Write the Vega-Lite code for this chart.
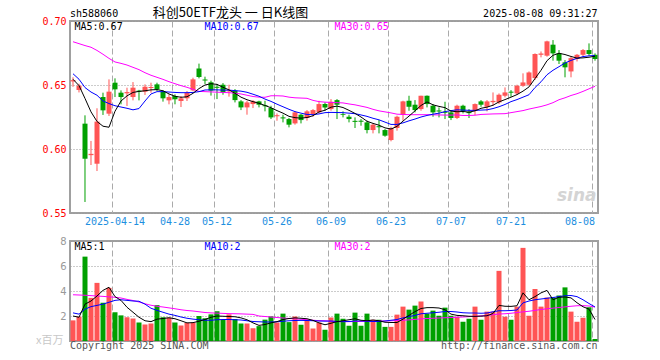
{
  "$schema": "https://vega.github.io/schema/vega-lite/v6.json",
  "autosize": {"type": "pad"},
  "padding": {"left": 35, "top": 5, "right": 0, "bottom": 0},
  "background": "#ffffff",
  "bounds": "flush",
  "spacing": 28,
  "datasets": {
    "k": [
      {"d":"2025-04-02","o":0.6528,"h":0.6560,"l":0.6486,"c":0.6538,"v":1.65,"m5":0.6545,"m10":0.6588,"m30":0.6838,"vm5":2.0,"vm10":2.25,"vm30":3.70},
      {"d":"2025-04-03","o":0.6461,"h":0.6510,"l":0.6442,"c":0.6495,"v":1.95,"m5":0.6495,"m10":0.6545,"m30":0.6823,"vm5":1.9,"vm10":2.15,"vm30":3.68},
      {"d":"2025-04-07","o":0.6198,"h":0.6263,"l":0.5586,"c":0.5924,"v":6.75,"m5":0.6395,"m10":0.6480,"m30":0.6808,"vm5":2.95,"vm10":2.55,"vm30":3.66},
      {"d":"2025-04-08","o":0.5952,"h":0.6063,"l":0.5875,"c":0.5962,"v":3.45,"m5":0.6290,"m10":0.6445,"m30":0.6795,"vm5":3.2,"vm10":2.75,"vm30":3.63},
      {"d":"2025-04-09","o":0.5885,"h":0.6318,"l":0.5828,"c":0.6214,"v":4.65,"m5":0.6215,"m10":0.6420,"m30":0.6770,"vm5":3.6,"vm10":2.85,"vm30":3.60},
      {"d":"2025-04-10","o":0.6406,"h":0.6440,"l":0.6266,"c":0.6302,"v":3.06,"m5":0.6178,"m10":0.6375,"m30":0.6740,"vm5":4.05,"vm10":2.95,"vm30":3.57},
      {"d":"2025-04-11","o":0.6276,"h":0.6544,"l":0.6258,"c":0.6448,"v":4.25,"m5":0.6170,"m10":0.6355,"m30":0.6708,"vm5":4.3,"vm10":3.1,"vm30":3.53},
      {"d":"2025-04-14","o":0.6518,"h":0.6552,"l":0.6406,"c":0.6466,"v":2.3,"m5":0.6295,"m10":0.6338,"m30":0.6680,"vm5":3.55,"vm10":3.25,"vm30":3.50},
      {"d":"2025-04-15","o":0.6440,"h":0.6458,"l":0.6349,"c":0.6406,"v":2.05,"m5":0.6375,"m10":0.6328,"m30":0.6669,"vm5":3.25,"vm10":3.3,"vm30":3.44},
      {"d":"2025-04-16","o":0.6435,"h":0.6479,"l":0.6336,"c":0.6445,"v":1.9,"m5":0.6415,"m10":0.6318,"m30":0.6656,"vm5":2.7,"vm10":3.25,"vm30":3.33},
      {"d":"2025-04-17","o":0.6406,"h":0.6523,"l":0.6380,"c":0.6479,"v":1.8,"m5":0.6442,"m10":0.6306,"m30":0.6638,"vm5":2.3,"vm10":3.2,"vm30":3.24},
      {"d":"2025-04-18","o":0.6456,"h":0.6462,"l":0.6380,"c":0.6448,"v":1.48,"m5":0.6450,"m10":0.6316,"m30":0.6620,"vm5":1.9,"vm10":3.18,"vm30":3.12},
      {"d":"2025-04-21","o":0.6448,"h":0.6505,"l":0.6422,"c":0.6487,"v":1.32,"m5":0.6455,"m10":0.6375,"m30":0.6596,"vm5":1.62,"vm10":2.95,"vm30":2.98},
      {"d":"2025-04-22","o":0.6477,"h":0.6518,"l":0.6440,"c":0.6485,"v":1.4,"m5":0.6462,"m10":0.6430,"m30":0.6576,"vm5":1.55,"vm10":2.62,"vm30":2.86},
      {"d":"2025-04-23","o":0.6505,"h":0.6518,"l":0.6453,"c":0.6466,"v":2.87,"m5":0.6464,"m10":0.6448,"m30":0.6560,"vm5":1.75,"vm10":2.45,"vm30":2.78},
      {"d":"2025-04-24","o":0.6448,"h":0.6458,"l":0.6370,"c":0.6396,"v":1.9,"m5":0.6455,"m10":0.6448,"m30":0.6544,"vm5":1.8,"vm10":2.3,"vm30":2.72},
      {"d":"2025-04-25","o":0.6380,"h":0.6427,"l":0.6349,"c":0.6406,"v":1.87,"m5":0.6430,"m10":0.6445,"m30":0.6526,"vm5":1.86,"vm10":2.15,"vm30":2.65},
      {"d":"2025-04-28","o":0.6414,"h":0.6427,"l":0.6349,"c":0.6388,"v":1.48,"m5":0.6412,"m10":0.6442,"m30":0.6510,"vm5":1.78,"vm10":2.05,"vm30":2.58},
      {"d":"2025-04-29","o":0.6375,"h":0.6414,"l":0.6328,"c":0.6396,"v":1.24,"m5":0.6404,"m10":0.6440,"m30":0.6495,"vm5":1.62,"vm10":1.92,"vm30":2.50},
      {"d":"2025-04-30","o":0.6396,"h":0.6453,"l":0.6375,"c":0.6440,"v":1.46,"m5":0.6408,"m10":0.6440,"m30":0.6482,"vm5":1.45,"vm10":1.82,"vm30":2.44},
      {"d":"2025-05-06","o":0.6458,"h":0.6557,"l":0.6453,"c":0.6544,"v":1.48,"m5":0.6435,"m10":0.6442,"m30":0.6466,"vm5":1.47,"vm10":1.75,"vm30":2.40},
      {"d":"2025-05-07","o":0.6628,"h":0.6667,"l":0.6552,"c":0.6563,"v":2.0,"m5":0.6472,"m10":0.6448,"m30":0.6450,"vm5":1.58,"vm10":1.70,"vm30":2.34},
      {"d":"2025-05-08","o":0.6543,"h":0.6565,"l":0.6508,"c":0.6535,"v":1.82,"m5":0.6500,"m10":0.6461,"m30":0.6448,"vm5":1.72,"vm10":1.66,"vm30":2.28},
      {"d":"2025-05-09","o":0.6521,"h":0.6534,"l":0.6417,"c":0.6456,"v":2.13,"m5":0.6510,"m10":0.6462,"m30":0.6446,"vm5":1.9,"vm10":1.66,"vm30":2.25},
      {"d":"2025-05-12","o":0.6486,"h":0.6508,"l":0.6390,"c":0.6478,"v":2.38,"m5":0.6505,"m10":0.6462,"m30":0.6444,"vm5":2.0,"vm10":1.7,"vm30":2.23},
      {"d":"2025-05-13","o":0.6502,"h":0.6515,"l":0.6424,"c":0.6442,"v":1.69,"m5":0.6482,"m10":0.6460,"m30":0.6442,"vm5":1.98,"vm10":1.72,"vm30":2.21},
      {"d":"2025-05-14","o":0.6450,"h":0.6502,"l":0.6409,"c":0.6458,"v":2.13,"m5":0.6462,"m10":0.6460,"m30":0.6440,"vm5":1.96,"vm10":1.72,"vm30":2.19},
      {"d":"2025-05-15","o":0.6456,"h":0.6468,"l":0.6364,"c":0.6382,"v":1.76,"m5":0.6435,"m10":0.6456,"m30":0.6436,"vm5":1.94,"vm10":1.70,"vm30":2.18},
      {"d":"2025-05-16","o":0.6372,"h":0.6382,"l":0.6304,"c":0.6325,"v":1.4,"m5":0.6405,"m10":0.6452,"m30":0.6430,"vm5":1.85,"vm10":1.68,"vm30":2.17},
      {"d":"2025-05-19","o":0.6325,"h":0.6377,"l":0.6268,"c":0.6364,"v":1.4,"m5":0.6385,"m10":0.6443,"m30":0.6420,"vm5":1.7,"vm10":1.62,"vm30":2.15},
      {"d":"2025-05-20","o":0.6351,"h":0.6382,"l":0.6320,"c":0.6372,"v":1.02,"m5":0.6370,"m10":0.6428,"m30":0.6410,"vm5":1.45,"vm10":1.56,"vm30":2.13},
      {"d":"2025-05-21","o":0.6372,"h":0.6377,"l":0.6325,"c":0.6346,"v":1.19,"m5":0.6357,"m10":0.6412,"m30":0.6405,"vm5":1.25,"vm10":1.54,"vm30":2.0},
      {"d":"2025-05-22","o":0.6342,"h":0.6377,"l":0.6294,"c":0.6334,"v":1.71,"m5":0.6340,"m10":0.6390,"m30":0.6404,"vm5":1.32,"vm10":1.52,"vm30":1.96},
      {"d":"2025-05-23","o":0.6320,"h":0.6338,"l":0.6234,"c":0.6247,"v":1.97,"m5":0.6322,"m10":0.6372,"m30":0.6416,"vm5":1.45,"vm10":1.52,"vm30":1.92},
      {"d":"2025-05-26","o":0.6256,"h":0.6278,"l":0.6221,"c":0.6264,"v":1.48,"m5":0.6300,"m10":0.6350,"m30":0.6416,"vm5":1.55,"vm10":1.54,"vm30":1.88},
      {"d":"2025-05-27","o":0.6247,"h":0.6268,"l":0.6208,"c":0.6239,"v":2.19,"m5":0.6280,"m10":0.6330,"m30":0.6414,"vm5":1.72,"vm10":1.58,"vm30":1.84},
      {"d":"2025-05-28","o":0.6234,"h":0.6242,"l":0.6169,"c":0.6190,"v":1.51,"m5":0.6255,"m10":0.6310,"m30":0.6405,"vm5":1.8,"vm10":1.62,"vm30":1.80},
      {"d":"2025-05-29","o":0.6200,"h":0.6294,"l":0.6190,"c":0.6286,"v":1.96,"m5":0.6245,"m10":0.6292,"m30":0.6400,"vm5":1.85,"vm10":1.64,"vm30":1.77},
      {"d":"2025-05-30","o":0.6268,"h":0.6273,"l":0.6200,"c":0.6226,"v":1.3,"m5":0.6241,"m10":0.6280,"m30":0.6398,"vm5":1.82,"vm10":1.65,"vm30":1.74},
      {"d":"2025-06-03","o":0.6242,"h":0.6304,"l":0.6221,"c":0.6294,"v":1.7,"m5":0.6246,"m10":0.6270,"m30":0.6396,"vm5":1.78,"vm10":1.64,"vm30":1.70},
      {"d":"2025-06-04","o":0.6273,"h":0.6312,"l":0.6252,"c":0.6304,"v":1.0,"m5":0.6260,"m10":0.6268,"m30":0.6380,"vm5":1.65,"vm10":1.62,"vm30":1.66},
      {"d":"2025-06-05","o":0.6286,"h":0.6377,"l":0.6278,"c":0.6351,"v":1.48,"m5":0.6290,"m10":0.6274,"m30":0.6370,"vm5":1.45,"vm10":1.60,"vm30":1.63},
      {"d":"2025-06-06","o":0.6351,"h":0.6364,"l":0.6299,"c":0.6325,"v":0.9,"m5":0.6303,"m10":0.6284,"m30":0.6366,"vm5":1.3,"vm10":1.59,"vm30":1.62},
      {"d":"2025-06-09","o":0.6312,"h":0.6390,"l":0.6299,"c":0.6369,"v":1.88,"m5":0.6327,"m10":0.6286,"m30":0.6364,"vm5":1.42,"vm10":1.60,"vm30":1.58},
      {"d":"2025-06-10","o":0.6382,"h":0.6390,"l":0.6234,"c":0.6346,"v":2.19,"m5":0.6335,"m10":0.6285,"m30":0.6362,"vm5":1.55,"vm10":1.56,"vm30":1.56},
      {"d":"2025-06-11","o":0.6272,"h":0.6294,"l":0.6247,"c":0.6266,"v":1.78,"m5":0.6324,"m10":0.6284,"m30":0.6360,"vm5":1.62,"vm10":1.55,"vm30":1.55},
      {"d":"2025-06-12","o":0.6252,"h":0.6268,"l":0.6208,"c":0.6234,"v":1.22,"m5":0.6302,"m10":0.6280,"m30":0.6352,"vm5":1.70,"vm10":1.56,"vm30":1.55},
      {"d":"2025-06-13","o":0.6220,"h":0.6247,"l":0.6164,"c":0.6212,"v":2.27,"m5":0.6278,"m10":0.6276,"m30":0.6345,"vm5":1.78,"vm10":1.60,"vm30":1.56},
      {"d":"2025-06-16","o":0.6221,"h":0.6234,"l":0.6182,"c":0.6213,"v":1.22,"m5":0.6250,"m10":0.6266,"m30":0.6335,"vm5":1.66,"vm10":1.60,"vm30":1.57},
      {"d":"2025-06-17","o":0.6208,"h":0.6221,"l":0.6122,"c":0.6148,"v":2.19,"m5":0.6217,"m10":0.6255,"m30":0.6325,"vm5":1.62,"vm10":1.58,"vm30":1.58},
      {"d":"2025-06-18","o":0.6148,"h":0.6200,"l":0.6122,"c":0.6190,"v":1.70,"m5":0.6200,"m10":0.6240,"m30":0.6310,"vm5":1.68,"vm10":1.56,"vm30":1.59},
      {"d":"2025-06-19","o":0.6178,"h":0.6226,"l":0.6122,"c":0.6170,"v":1.70,"m5":0.6186,"m10":0.6228,"m30":0.6298,"vm5":1.62,"vm10":1.56,"vm30":1.60},
      {"d":"2025-06-20","o":0.6148,"h":0.6156,"l":0.6096,"c":0.6104,"v":1.13,"m5":0.6165,"m10":0.6210,"m30":0.6290,"vm5":1.50,"vm10":1.60,"vm30":1.60},
      {"d":"2025-06-23","o":0.6070,"h":0.6174,"l":0.6060,"c":0.6164,"v":1.13,"m5":0.6156,"m10":0.6192,"m30":0.6282,"vm5":1.48,"vm10":1.66,"vm30":1.62},
      {"d":"2025-06-24","o":0.6164,"h":0.6260,"l":0.6143,"c":0.6252,"v":2.11,"m5":0.6177,"m10":0.6192,"m30":0.6272,"vm5":1.48,"vm10":1.72,"vm30":1.64},
      {"d":"2025-06-25","o":0.6268,"h":0.6377,"l":0.6221,"c":0.6372,"v":2.75,"m5":0.6218,"m10":0.6204,"m30":0.6270,"vm5":1.75,"vm10":1.85,"vm30":1.66},
      {"d":"2025-06-26","o":0.6377,"h":0.6416,"l":0.6299,"c":0.6330,"v":2.51,"m5":0.6257,"m10":0.6220,"m30":0.6268,"vm5":2.05,"vm10":1.95,"vm30":1.69},
      {"d":"2025-06-27","o":0.6346,"h":0.6382,"l":0.6286,"c":0.6304,"v":2.83,"m5":0.6298,"m10":0.6234,"m30":0.6268,"vm5":2.35,"vm10":2.05,"vm30":1.73},
      {"d":"2025-06-30","o":0.6312,"h":0.6416,"l":0.6299,"c":0.6416,"v":3.16,"m5":0.6340,"m10":0.6250,"m30":0.6268,"vm5":2.6,"vm10":2.18,"vm30":1.77},
      {"d":"2025-07-01","o":0.6416,"h":0.6418,"l":0.6325,"c":0.6351,"v":2.19,"m5":0.6368,"m10":0.6262,"m30":0.6268,"vm5":2.67,"vm10":2.22,"vm30":1.80},
      {"d":"2025-07-02","o":0.6338,"h":0.6351,"l":0.6252,"c":0.6286,"v":2.43,"m5":0.6345,"m10":0.6272,"m30":0.6267,"vm5":2.67,"vm10":2.26,"vm30":1.82},
      {"d":"2025-07-03","o":0.6301,"h":0.6325,"l":0.6247,"c":0.6293,"v":2.02,"m5":0.6333,"m10":0.6280,"m30":0.6266,"vm5":2.64,"vm10":2.30,"vm30":1.84},
      {"d":"2025-07-04","o":0.6291,"h":0.6369,"l":0.6234,"c":0.6283,"v":2.67,"m5":0.6323,"m10":0.6292,"m30":0.6265,"vm5":2.5,"vm10":2.36,"vm30":1.86},
      {"d":"2025-07-07","o":0.6286,"h":0.6299,"l":0.6226,"c":0.6242,"v":2.02,"m5":0.6296,"m10":0.6300,"m30":0.6265,"vm5":2.15,"vm10":2.36,"vm30":1.88},
      {"d":"2025-07-08","o":0.6242,"h":0.6346,"l":0.6234,"c":0.6338,"v":1.94,"m5":0.6291,"m10":0.6306,"m30":0.6266,"vm5":2.05,"vm10":2.32,"vm30":1.90},
      {"d":"2025-07-09","o":0.6338,"h":0.6346,"l":0.6278,"c":0.6296,"v":1.54,"m5":0.6293,"m10":0.6304,"m30":0.6262,"vm5":2.02,"vm10":2.26,"vm30":1.92},
      {"d":"2025-07-10","o":0.6290,"h":0.6312,"l":0.6242,"c":0.6280,"v":1.78,"m5":0.6288,"m10":0.6302,"m30":0.6262,"vm5":1.98,"vm10":2.24,"vm30":1.95},
      {"d":"2025-07-11","o":0.6299,"h":0.6356,"l":0.6265,"c":0.6351,"v":2.75,"m5":0.6298,"m10":0.6302,"m30":0.6264,"vm5":1.97,"vm10":2.24,"vm30":1.98},
      {"d":"2025-07-14","o":0.6372,"h":0.6382,"l":0.6330,"c":0.6346,"v":1.70,"m5":0.6318,"m10":0.6304,"m30":0.6270,"vm5":1.99,"vm10":2.22,"vm30":2.01},
      {"d":"2025-07-15","o":0.6330,"h":0.6382,"l":0.6294,"c":0.6372,"v":2.35,"m5":0.6327,"m10":0.6306,"m30":0.6272,"vm5":2.02,"vm10":2.24,"vm30":2.04},
      {"d":"2025-07-16","o":0.6366,"h":0.6442,"l":0.6338,"c":0.6376,"v":2.35,"m5":0.6342,"m10":0.6316,"m30":0.6274,"vm5":2.2,"vm10":2.34,"vm30":2.10},
      {"d":"2025-07-17","o":0.6364,"h":0.6434,"l":0.6351,"c":0.6424,"v":5.61,"m5":0.6368,"m10":0.6330,"m30":0.6275,"vm5":2.85,"vm10":2.42,"vm30":2.16},
      {"d":"2025-07-18","o":0.6416,"h":0.6481,"l":0.6403,"c":0.6442,"v":1.94,"m5":0.6386,"m10":0.6348,"m30":0.6276,"vm5":2.78,"vm10":2.42,"vm30":2.18},
      {"d":"2025-07-21","o":0.6448,"h":0.6460,"l":0.6408,"c":0.6440,"v":1.70,"m5":0.6405,"m10":0.6370,"m30":0.6284,"vm5":2.77,"vm10":2.44,"vm30":2.22},
      {"d":"2025-07-22","o":0.6434,"h":0.6502,"l":0.6424,"c":0.6494,"v":2.75,"m5":0.6425,"m10":0.6386,"m30":0.6292,"vm5":2.82,"vm10":2.48,"vm30":2.28},
      {"d":"2025-07-23","o":0.6494,"h":0.6591,"l":0.6486,"c":0.6520,"v":7.45,"m5":0.6452,"m10":0.6405,"m30":0.6300,"vm5":3.85,"vm10":3.05,"vm30":2.33},
      {"d":"2025-07-24","o":0.6502,"h":0.6606,"l":0.6494,"c":0.6598,"v":2.02,"m5":0.6485,"m10":0.6424,"m30":0.6312,"vm5":3.3,"vm10":3.2,"vm30":2.38},
      {"d":"2025-07-25","o":0.6554,"h":0.6747,"l":0.6539,"c":0.6742,"v":4.16,"m5":0.6550,"m10":0.6480,"m30":0.6322,"vm5":3.55,"vm10":3.3,"vm30":2.45},
      {"d":"2025-07-28","o":0.6736,"h":0.6762,"l":0.6716,"c":0.6746,"v":2.75,"m5":0.6615,"m10":0.6525,"m30":0.6332,"vm5":3.85,"vm10":3.36,"vm30":2.52},
      {"d":"2025-07-29","o":0.6729,"h":0.6846,"l":0.6721,"c":0.6841,"v":3.48,"m5":0.6690,"m10":0.6580,"m30":0.6345,"vm5":4.05,"vm10":3.42,"vm30":2.58},
      {"d":"2025-07-30","o":0.6815,"h":0.6851,"l":0.6690,"c":0.6747,"v":3.48,"m5":0.6732,"m10":0.6615,"m30":0.6362,"vm5":3.3,"vm10":3.48,"vm30":2.63},
      {"d":"2025-07-31","o":0.6747,"h":0.6773,"l":0.6664,"c":0.6690,"v":3.64,"m5":0.6748,"m10":0.6643,"m30":0.6385,"vm5":3.5,"vm10":3.55,"vm30":2.68},
      {"d":"2025-08-01","o":0.6677,"h":0.6695,"l":0.6560,"c":0.6638,"v":4.29,"m5":0.6738,"m10":0.6672,"m30":0.6400,"vm5":3.52,"vm10":3.62,"vm30":2.73},
      {"d":"2025-08-04","o":0.6606,"h":0.6721,"l":0.6560,"c":0.6710,"v":2.35,"m5":0.6723,"m10":0.6692,"m30":0.6418,"vm5":3.45,"vm10":3.64,"vm30":2.78},
      {"d":"2025-08-05","o":0.6703,"h":0.6742,"l":0.6684,"c":0.6736,"v":1.54,"m5":0.6710,"m10":0.6708,"m30":0.6432,"vm5":3.06,"vm10":3.55,"vm30":2.82},
      {"d":"2025-08-06","o":0.6736,"h":0.6781,"l":0.6721,"c":0.6773,"v":1.86,"m5":0.6712,"m10":0.6722,"m30":0.6450,"vm5":2.74,"vm10":3.3,"vm30":2.83},
      {"d":"2025-08-07","o":0.6773,"h":0.6825,"l":0.6729,"c":0.6742,"v":2.7,"m5":0.6717,"m10":0.6728,"m30":0.6470,"vm5":2.55,"vm10":3.0,"vm30":2.80},
      {"d":"2025-08-08","o":0.6736,"h":0.6747,"l":0.6690,"c":0.6703,"v":0.16,"m5":0.6725,"m10":0.6730,"m30":0.6490,"vm5":1.72,"vm10":2.72,"vm30":2.72}
    ]
  },
  "config": {
    "view": {"stroke": "#a0a0a0", "strokeWidth": 2},
    "axis": {"ticks": false, "domain": false, "title": null, "labelFont": "DejaVu Sans Mono", "labelFontSize": 10, "labelOverlap": false},
    "text": {"font": "DejaVu Sans Mono", "fontSize": 10}
  },
  "vconcat": [
    {
      "width": 528,
      "height": 192,
      "data": {"name": "k"},
      "layer": [
        {
          "mark": {"type": "rule", "strokeWidth": 1},
          "encoding": {
            "x": {
              "field": "d", "type": "ordinal",
              "scale": {"type": "band", "paddingInner": 0.1667, "paddingOuter": 0.0833},
              "axis": {
                "values": ["2025-04-14","2025-04-28","2025-05-12","2025-05-26","2025-06-09","2025-06-23","2025-07-07","2025-07-21","2025-08-08"],
                "labelExpr": "datum.value == '2025-04-14' ? datum.value : slice(datum.value, 5)",
                "bandPosition": 0,
                "grid": true, "gridDash": [6, 3], "gridColor": "#aaaaaa",
                "labelColor": "#1e8fe0", "labelPadding": 3, "labelAngle": 0, "labelOverlap": false,
                "labelAlign": {"condition": {"test": "datum.value == '2025-08-08'", "value": "right"}, "value": "center"}
              }
            },
            "y": {
              "field": "l", "type": "quantitative",
              "scale": {"domain": [0.55, 0.70], "zero": false, "nice": false},
              "axis": {
                "values": [0.55, 0.60, 0.65, 0.70], "format": ".2f",
                "grid": true, "gridDash": [1, 2], "gridColor": "#999999",
                "labelColor": "#ff0000", "labelPadding": 4, "labelOverlap": false
              }
            },
            "y2": {"field": "h"},
            "color": {"condition": {"test": "datum.c >= datum.o", "value": "#ff5555"}, "value": "#00a000"}
          }
        },
        {
          "mark": {"type": "bar"},
          "encoding": {
            "x": {"field": "d", "type": "ordinal"},
            "y": {"field": "o", "type": "quantitative"},
            "y2": {"field": "c"},
            "color": {"condition": {"test": "datum.c >= datum.o", "value": "#ff5555"}, "value": "#00a000"}
          }
        },
        {
          "mark": {"type": "line", "color": "#ff00ff", "strokeWidth": 1},
          "encoding": {"x": {"field": "d", "type": "ordinal"}, "y": {"field": "m30", "type": "quantitative"}}
        },
        {
          "mark": {"type": "line", "color": "#0000ff", "strokeWidth": 1},
          "encoding": {"x": {"field": "d", "type": "ordinal"}, "y": {"field": "m10", "type": "quantitative"}}
        },
        {
          "mark": {"type": "line", "color": "#000000", "strokeWidth": 1},
          "encoding": {"x": {"field": "d", "type": "ordinal"}, "y": {"field": "m5", "type": "quantitative"}}
        },
        {
          "data": {"values": [{"t": "sina"}]},
          "mark": {"type": "text", "align": "right", "baseline": "middle", "font": "DejaVu Sans", "fontSize": 17, "fontWeight": "bold", "fontStyle": "italic", "color": "#d4d4d4", "dx": 4},
          "encoding": {"x": {"datum": "2025-08-08", "type": "ordinal", "bandPosition": 0}, "y": {"datum": 0.5635}, "text": {"field": "t"}}
        },
        {
          "data": {"values": [{"t": "sh588060"}]},
          "mark": {"type": "text", "align": "left", "baseline": "middle", "color": "#000000", "dx": -0.5},
          "encoding": {"x": {"datum": "2025-04-02", "type": "ordinal", "bandPosition": 0}, "y": {"datum": 0.7057}, "text": {"field": "t"}}
        },
        {
          "data": {"values": [{"t": "科创50ETF龙头 一 日K线图"}]},
          "mark": {"type": "text", "align": "center", "baseline": "middle", "font": "Noto Sans CJK SC", "fontSize": 13, "color": "#000000", "dx": 4},
          "encoding": {"x": {"datum": "2025-05-14", "type": "ordinal", "bandPosition": 0}, "y": {"datum": 0.7065}, "text": {"field": "t"}}
        },
        {
          "data": {"values": [{"t": "2025-08-08 09:31:27"}]},
          "mark": {"type": "text", "align": "right", "baseline": "middle", "color": "#000000", "dx": 5},
          "encoding": {"x": {"datum": "2025-08-08", "type": "ordinal", "bandPosition": 0}, "y": {"datum": 0.7057}, "text": {"field": "t"}}
        },
        {
          "data": {"values": [{"t": "MA5:0.67"}]},
          "mark": {"type": "text", "align": "left", "baseline": "middle", "color": "#000000", "dx": 4},
          "encoding": {"x": {"datum": "2025-04-02", "type": "ordinal", "bandPosition": 0}, "y": {"datum": 0.6953}, "text": {"field": "t"}}
        },
        {
          "data": {"values": [{"t": "MA10:0.67"}]},
          "mark": {"type": "text", "align": "left", "baseline": "middle", "color": "#0000ff", "dx": 2},
          "encoding": {"x": {"datum": "2025-05-08", "type": "ordinal", "bandPosition": 0}, "y": {"datum": 0.6953}, "text": {"field": "t"}}
        },
        {
          "data": {"values": [{"t": "MA30:0.65"}]},
          "mark": {"type": "text", "align": "left", "baseline": "middle", "color": "#ff00ff", "dx": 0},
          "encoding": {"x": {"datum": "2025-06-10", "type": "ordinal", "bandPosition": 0}, "y": {"datum": 0.6953}, "text": {"field": "t"}}
        }
      ]
    },
    {
      "width": 528,
      "height": 100,
      "data": {"name": "k"},
      "layer": [
        {
          "mark": {"type": "bar"},
          "encoding": {
            "x": {
              "field": "d", "type": "ordinal",
              "scale": {"type": "band", "paddingInner": 0.1667, "paddingOuter": 0.0833},
              "axis": {
                "values": ["2025-04-14","2025-04-28","2025-05-12","2025-05-26","2025-06-09","2025-06-23","2025-07-07","2025-07-21","2025-08-08"],
                "bandPosition": 0, "labels": false,
                "grid": true, "gridDash": [6, 3], "gridColor": "#aaaaaa"
              }
            },
            "y": {
              "field": "v", "type": "quantitative",
              "scale": {"domain": [0, 8], "nice": false, "zero": true},
              "axis": {
                "tickCount": 4,
                "labelExpr": "datum.value == 0 ? '' : datum.label",
                "grid": true, "gridDash": [1, 2], "gridColor": "#999999",
                "labelColor": "#999999", "labelFont": "DejaVu Sans", "labelPadding": 4, "labelOverlap": false, "labelBound": false, "labelFlush": false
              }
            },
            "color": {"condition": {"test": "datum.c >= datum.o", "value": "#ff5555"}, "value": "#00a000"}
          }
        },
        {
          "mark": {"type": "line", "color": "#ff00ff", "strokeWidth": 1},
          "encoding": {"x": {"field": "d", "type": "ordinal"}, "y": {"field": "vm30", "type": "quantitative"}}
        },
        {
          "mark": {"type": "line", "color": "#0000ff", "strokeWidth": 1},
          "encoding": {"x": {"field": "d", "type": "ordinal"}, "y": {"field": "vm10", "type": "quantitative"}}
        },
        {
          "mark": {"type": "line", "color": "#000000", "strokeWidth": 1},
          "encoding": {"x": {"field": "d", "type": "ordinal"}, "y": {"field": "vm5", "type": "quantitative"}}
        },
        {
          "data": {"values": [{"t": "MA5:1"}]},
          "mark": {"type": "text", "align": "left", "baseline": "middle", "color": "#000000", "dx": 4},
          "encoding": {"x": {"datum": "2025-04-02", "type": "ordinal", "bandPosition": 0}, "y": {"datum": 7.5}, "text": {"field": "t"}}
        },
        {
          "data": {"values": [{"t": "MA10:2"}]},
          "mark": {"type": "text", "align": "left", "baseline": "middle", "color": "#0000ff", "dx": 2},
          "encoding": {"x": {"datum": "2025-05-08", "type": "ordinal", "bandPosition": 0}, "y": {"datum": 7.5}, "text": {"field": "t"}}
        },
        {
          "data": {"values": [{"t": "MA30:2"}]},
          "mark": {"type": "text", "align": "left", "baseline": "middle", "color": "#ff00ff", "dx": 0},
          "encoding": {"x": {"datum": "2025-06-10", "type": "ordinal", "bandPosition": 0}, "y": {"datum": 7.5}, "text": {"field": "t"}}
        },
        {
          "data": {"values": [{"t": "x百万"}]},
          "mark": {"type": "text", "align": "right", "baseline": "middle", "font": "Noto Sans CJK SC", "fontSize": 11, "color": "#c8c8c8", "dx": -7},
          "encoding": {"x": {"datum": "2025-04-02", "type": "ordinal", "bandPosition": 0}, "y": {"datum": 0}, "text": {"field": "t"}}
        },
        {
          "data": {"values": [{"t": "Copyright 2025 SINA.COM"}]},
          "mark": {"type": "text", "align": "left", "baseline": "middle", "color": "#555555", "dx": -0.5},
          "encoding": {"x": {"datum": "2025-04-02", "type": "ordinal", "bandPosition": 0}, "y": {"datum": -0.42}, "text": {"field": "t"}}
        },
        {
          "data": {"values": [{"t": "http://finance.sina.com.cn"}]},
          "mark": {"type": "text", "align": "right", "baseline": "middle", "color": "#555555", "dx": 5},
          "encoding": {"x": {"datum": "2025-08-08", "type": "ordinal", "bandPosition": 0}, "y": {"datum": -0.42}, "text": {"field": "t"}}
        }
      ]
    }
  ]
}
